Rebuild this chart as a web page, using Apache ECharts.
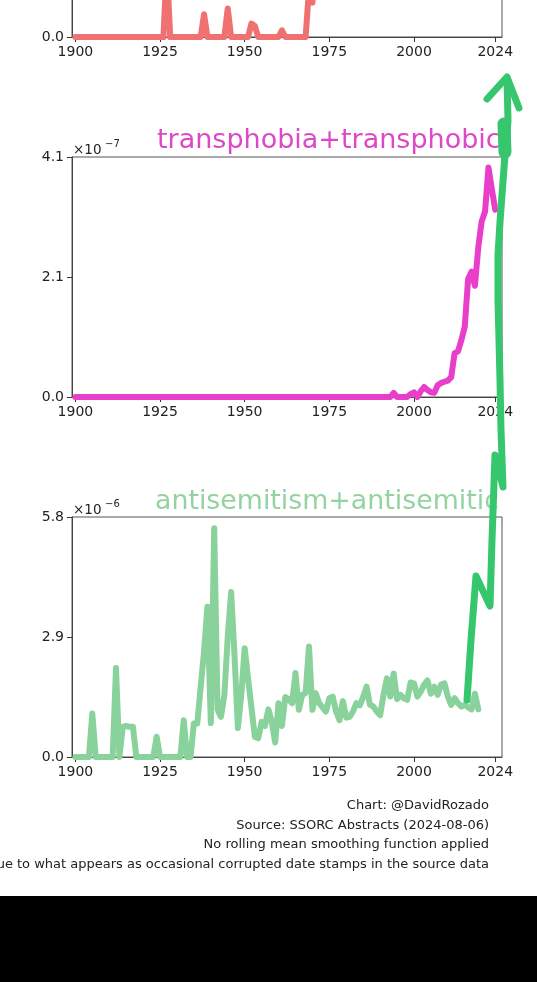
<!DOCTYPE html>
<html>
<head>
<meta charset="utf-8">
<script src="https://cdn.jsdelivr.net/npm/echarts@6.0.0/dist/echarts.min.js"></script>
<style>
  html, body { margin: 0; padding: 0; background: #000; }
  #chart { width: 537px; height: 896px; background: #fff; }
</style>
</head>
<body>
<div id="chart"></div>
<script>
// x axis ticks shared by all panels
const yearTicks = [1900, 1925, 1950, 1975, 2000, 2024];

// top panel (cropped), arbitrary units, starts 1900
const redStart = 1900;
const redValues = [
  0, 0, 0, 0, 0, 0, 0, 0, 0, 0,
  0, 0, 0, 0, 0, 0, 0, 0, 0, 0,
  0, 0, 0, 0, 0, 0, 0, 0.3, 0, 0,
  0, 0, 0, 0, 0, 0, 0, 0, 0.095, 0,
  0, 0, 0, 0, 0, 0.119, 0, 0, 0, 0,
  0, 0, 0.056, 0.046, 0, 0, 0, 0, 0, 0,
  0, 0.028, 0, 0, 0, 0, 0, 0, 0, 0.2,
  0.143, 0.35
];
const redTicks = [0];
const redTickLabels = ['0.0'];

// transphobia+transphobic, x10^-7, starts 1900
const transStart = 1900;
const transValues = [
  0, 0, 0, 0, 0, 0, 0, 0, 0, 0,
  0, 0, 0, 0, 0, 0, 0, 0, 0, 0,
  0, 0, 0, 0, 0, 0, 0, 0, 0, 0,
  0, 0, 0, 0, 0, 0, 0, 0, 0, 0,
  0, 0, 0, 0, 0, 0, 0, 0, 0, 0,
  0, 0, 0, 0, 0, 0, 0, 0, 0, 0,
  0, 0, 0, 0, 0, 0, 0, 0, 0, 0,
  0, 0, 0, 0, 0, 0, 0, 0, 0, 0,
  0, 0, 0, 0, 0, 0, 0, 0, 0, 0,
  0, 0, 0, 0, 0.07, 0, 0, 0, 0, 0.05,
  0.08, 0, 0.1, 0.17, 0.12, 0.08, 0.07, 0.2, 0.24, 0.26,
  0.28, 0.34, 0.75, 0.78, 0.97, 1.2, 2.02, 2.14, 1.9, 2.56,
  3.0, 3.17, 3.92, 3.55, 3.2
];
const transTicks = [0, 2.05, 4.1];
const transTickLabels = ['0.0', '2.1', '4.1'];

// antisemitism+antisemitic, x10^-6, starts 1900
const antiStart = 1900;
const antiValues = [
  0, 0, 0, 0, 0, 1.05, 0, 0, 0, 0,
  0, 0, 2.15, 0, 0.73, 0.75, 0.73, 0.73, 0, 0,
  0, 0, 0, 0, 0.49, 0, 0, 0, 0, 0,
  0, 0, 0.89, 0, 0, 0.81, 0.81, 1.7, 2.55, 3.63,
  0.82, 5.53, 1.14, 0.97, 1.5, 2.9, 3.99, 2.45, 0.7, 1.5,
  2.63, 1.9, 1.2, 0.49, 0.45, 0.85, 0.75, 1.15, 0.85, 0.35,
  1.3, 0.75, 1.45, 1.4, 1.3, 2.03, 1.14, 1.5, 1.55, 2.67,
  1.14, 1.54, 1.3, 1.2, 1.1, 1.42, 1.46, 1.1, 0.89, 1.35,
  0.95, 0.97, 1.1, 1.3, 1.25, 1.45, 1.7, 1.26, 1.22, 1.1,
  1.01, 1.5, 1.9, 1.46, 2.02, 1.4, 1.5, 1.42, 1.38, 1.8,
  1.78, 1.46, 1.58, 1.75, 1.85, 1.53, 1.7, 1.5, 1.75, 1.78,
  1.46, 1.26, 1.42, 1.3, 1.22, 1.26, 1.2, 1.15, 1.53, 1.15
];
const antiTicks = [0, 2.9, 5.8];
const antiTickLabels = ['0.0', '2.9', '5.8'];

const footerLines = [
  'Chart: @DavidRozado',
  'Source: SSORC Abstracts (2024-08-06)',
  'No rolling mean smoothing function applied',
  'Spikes in early years are likely due to what appears as occasional corrupted date stamps in the source data'
];

// hand drawn arrow overlay (pixels)
const arrowPath = [[467, 700], [471, 640], [476, 576], [483, 591], [490, 606], [492, 540], [495, 455],
  [499, 470], [503, 487], [501, 430], [500, 380], [498, 300], [498, 255], [500, 222], [504, 168], [508, 121], [507, 78]];
const arrowHead = [[487, 99], [507, 77], [519, 108]];
const arrowBlob = [[504, 124], [505, 152]];

const font = 'DejaVu Sans';
const chart = echarts.init(document.getElementById('chart'));

const toPairs = (start, vals) => vals.map((v, i) => [start + i, v]);

function grid(top) {
  return { left: 72, top: top, width: 430, height: 240, show: true, borderColor: '#555', borderWidth: 1,
    containLabel: false, outerBoundsMode: 'none' };
}
function xAxis(i) {
  return {
    type: 'value', gridIndex: i, min: 1899, max: 2026,
    axisLine: { show: true, lineStyle: { color: '#444' } },
    axisTick: { show: true, length: 5, customValues: yearTicks, lineStyle: { color: '#333' } },
    axisLabel: { customValues: yearTicks, margin: 8, color: '#222', fontSize: 14, fontFamily: font,
      formatter: v => String(v) },
    splitLine: { show: false }
  };
}
function yAxis(i, max, ticks, labels) {
  return {
    type: 'value', gridIndex: i, min: 0, max: max,
    axisLine: { show: true, lineStyle: { color: '#444' } },
    axisTick: { show: true, length: 5, customValues: ticks, lineStyle: { color: '#333' } },
    axisLabel: {
      customValues: ticks, margin: 8, color: '#222', fontSize: 14, fontFamily: font,
      formatter: v => labels[ticks.indexOf(v)]
    },
    splitLine: { show: false }
  };
}
function line(i, data, color) {
  return {
    type: 'line', xAxisIndex: i, yAxisIndex: i, data: data,
    symbol: 'none', showSymbol: false, animation: false,
    lineStyle: { color: color, width: 6, cap: 'round', join: 'round' }
  };
}
function txt(x, y, text, size, fill, align) {
  return { type: 'text', z: 10, style: { x: x, y: y, text: text, fill: fill, fontSize: size, fontFamily: font,
    textAlign: align || 'left', textVerticalAlign: 'middle' } };
}

const graphics = [
  txt(157, 141, 'transphobia+transphobic', 27, '#de48c7'),
  txt(155, 502, 'antisemitism+antisemitic', 26.8, '#93d3a2'),
  txt(73, 150, '\u00d710', 13.5, '#222'),
  txt(105, 144, '\u22127', 10, '#222'),
  txt(73, 510, '\u00d710', 13.5, '#222'),
  txt(105, 504, '\u22126', 10, '#222')
];
footerLines.forEach((t, k) => graphics.push(txt(489, 806 + k * 19.5, t, 13, '#222', 'right')));
const arrowStyle = { stroke: '#36c66e', lineWidth: 7, lineCap: 'round', lineJoin: 'round', fill: null };
graphics.push({ type: 'polyline', z: 100, shape: { points: arrowPath }, style: arrowStyle });
graphics.push({ type: 'polyline', z: 100, shape: { points: arrowHead }, style: arrowStyle });
graphics.push({ type: 'polyline', z: 100, shape: { points: arrowBlob }, style: Object.assign({}, arrowStyle, { lineWidth: 13 }) });

chart.setOption({
  animation: false,
  grid: [grid(-203), grid(157), grid(517)],
  xAxis: [xAxis(0), xAxis(1), xAxis(2)],
  yAxis: [
    yAxis(0, 1, redTicks, redTickLabels),
    yAxis(1, 4.1, transTicks, transTickLabels),
    yAxis(2, 5.8, antiTicks, antiTickLabels)
  ],
  series: [
    line(0, toPairs(redStart, redValues), '#f07171'),
    line(1, toPairs(transStart, transValues), '#e83ec9'),
    line(2, toPairs(antiStart, antiValues), '#8ad29b')
  ],
  graphic: graphics
});
</script>
</body>
</html>
